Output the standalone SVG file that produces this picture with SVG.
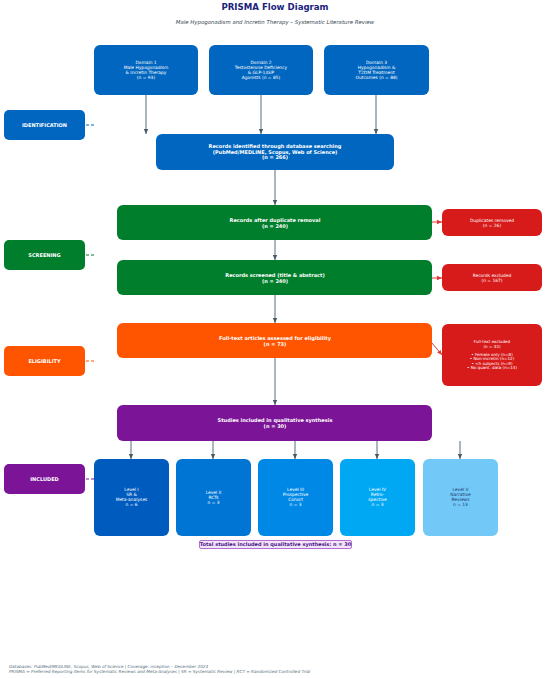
<svg xmlns="http://www.w3.org/2000/svg" width="550" height="678" viewBox="0 0 550 678">
<defs>
<marker id="ah" markerWidth="6" markerHeight="6" refX="5" refY="3" orient="auto" markerUnits="userSpaceOnUse"><path d="M0,0.8 L5,3 L0,5.2 z" fill="#455a64"/></marker>
<marker id="ahr" markerWidth="6" markerHeight="6" refX="5" refY="3" orient="auto" markerUnits="userSpaceOnUse"><path d="M0,0.8 L5,3 L0,5.2 z" fill="#e53935"/></marker>
</defs>
<style>
text{font-family:"DejaVu Sans",sans-serif;text-anchor:middle}
.w{fill:#ffffff;font-size:4.4px}
.wb{fill:#ffffff;font-size:5px;font-weight:bold}
.side{fill:#ffffff;font-size:5px;font-weight:bold}
.ar{stroke:#546e7a;stroke-width:1;fill:none;marker-end:url(#ah)}
.rr{stroke:#e53935;stroke-width:1;fill:none;marker-end:url(#ahr)}
.ds{stroke-width:1;stroke-dasharray:3,2;fill:none}
</style>
<rect width="550" height="678" fill="#ffffff"/>
<text x="275" y="9.5" style="font-size:8.6px;font-weight:bold;fill:#1a237e">PRISMA Flow Diagram</text>
<text x="275" y="24" style="font-size:5.4px;font-style:italic;fill:#37474f">Male Hypogonadism and Incretin Therapy – Systematic Literature Review</text>

<g id="connectors">
<line class="ar" x1="146" y1="95" x2="146" y2="134"/>
<line class="ar" x1="261" y1="95" x2="261" y2="134"/>
<line class="ar" x1="376" y1="95" x2="376" y2="134"/>
<line class="ar" x1="275" y1="170" x2="275" y2="205"/>
<line class="ar" x1="275" y1="240" x2="275" y2="260"/>
<line class="ar" x1="275" y1="295" x2="275" y2="323"/>
<line class="ar" x1="275" y1="358" x2="275" y2="405"/>
<line class="rr" x1="432" y1="222" x2="442" y2="222"/>
<line class="rr" x1="432" y1="278" x2="442" y2="278"/>
<line class="rr" x1="432" y1="343" x2="442" y2="355"/>
<line class="ar" x1="131" y1="441" x2="131" y2="459"/>
<line class="ar" x1="213" y1="441" x2="213" y2="459"/>
<line class="ar" x1="295" y1="441" x2="295" y2="459"/>
<line class="ar" x1="377" y1="441" x2="377" y2="459"/>
<line class="ar" x1="460" y1="441" x2="460" y2="459"/>
<line class="ds" stroke="#0066c0" x1="86" y1="125" x2="94" y2="125"/>
<line class="ds" stroke="#007e2b" x1="86" y1="255" x2="94" y2="255"/>
<line class="ds" stroke="#ff5500" x1="86" y1="361" x2="94" y2="361"/>
<line class="ds" stroke="#7b1497" x1="86" y1="479" x2="94" y2="479"/>
</g>

<g id="domain1"><rect x="94" y="45" width="104" height="50" rx="6" fill="#0066c0"/>
<text class="w" x="146" y="63.5">Domain 1</text><text class="w" x="146" y="68.5">Male Hypogonadism</text><text class="w" x="146" y="73.5">&amp; Incretin Therapy</text><text class="w" x="146" y="78.5">(n = 93)</text></g>
<g id="domain2"><rect x="209" y="45" width="104" height="50" rx="6" fill="#0066c0"/>
<text class="w" x="261" y="63.5">Domain 2</text><text class="w" x="261" y="68.5">Testosterone Deficiency</text><text class="w" x="261" y="73.5">&amp; GLP-1/GIP</text><text class="w" x="261" y="78.5">Agonists (n = 85)</text></g>
<g id="domain3"><rect x="324" y="45" width="105" height="50" rx="6" fill="#0066c0"/>
<text class="w" x="376.5" y="63.5">Domain 3</text><text class="w" x="376.5" y="68.5">Hypogonadism &amp;</text><text class="w" x="376.5" y="73.5">T2DM Treatment</text><text class="w" x="376.5" y="78.5">Outcomes (n = 88)</text></g>

<g id="identification"><rect x="4" y="110" width="81" height="30" rx="5" fill="#0066c0"/><text class="side" x="44.5" y="126.8">IDENTIFICATION</text></g>
<g id="screening"><rect x="4" y="240" width="81" height="30" rx="5" fill="#007e2b"/><text class="side" x="44.5" y="256.8">SCREENING</text></g>
<g id="eligibility"><rect x="4" y="346" width="81" height="30" rx="5" fill="#ff5500"/><text class="side" x="44.5" y="362.8">ELIGIBILITY</text></g>
<g id="included"><rect x="4" y="464" width="81" height="30" rx="5" fill="#7b1497"/><text class="side" x="44.5" y="480.8">INCLUDED</text></g>

<g id="identified"><rect x="156" y="134" width="238" height="36" rx="6" fill="#0066c0"/>
<text class="wb" x="275" y="148">Records identified through database searching</text><text class="wb" x="275" y="153.5">(PubMed/MEDLINE, Scopus, Web of Science)</text><text class="wb" x="275" y="159">(n = 266)</text></g>
<g id="dedup"><rect x="117" y="205" width="315" height="35" rx="6" fill="#007e2b"/>
<text class="wb" x="275" y="221.5">Records after duplicate removal</text><text class="wb" x="275" y="227.5">(n = 240)</text></g>
<g id="duplicates"><rect x="442" y="209" width="100" height="27" rx="6" fill="#d71a1a"/>
<text class="w" x="492" y="221.5">Duplicates removed</text><text class="w" x="492" y="226.5">(n = 26)</text></g>
<g id="screened"><rect x="117" y="260" width="315" height="35" rx="6" fill="#007e2b"/>
<text class="wb" x="275" y="276.5">Records screened (title &amp; abstract)</text><text class="wb" x="275" y="282.5">(n = 240)</text></g>
<g id="excluded"><rect x="442" y="264" width="100" height="27" rx="6" fill="#d71a1a"/>
<text class="w" x="492" y="276.5">Records excluded</text><text class="w" x="492" y="281.5">(n = 167)</text></g>
<g id="fulltext"><rect x="117" y="323" width="315" height="35" rx="6" fill="#ff5500"/>
<text class="wb" x="275" y="339.5">Full-text articles assessed for eligibility</text><text class="wb" x="275" y="345.5">(n = 73)</text></g>
<g id="ftexcluded"><rect x="442" y="324" width="100" height="62" rx="6" fill="#d71a1a"/>
<g style="font-size:4.1px;fill:#ffffff"><text x="492" y="343">Full-text excluded</text><text x="492" y="347.5">(n = 43)</text><text x="492" y="355.5">• Female only (n=8)</text><text x="492" y="360">• Non-incretin (n=12)</text><text x="492" y="364.5">• &lt;5 subjects (n=9)</text><text x="492" y="369">• No quant. data (n=14)</text></g></g>
<g id="studies"><rect x="117" y="405" width="315" height="36" rx="6" fill="#7b1497"/>
<text class="wb" x="275" y="422">Studies included in qualitative synthesis</text><text class="wb" x="275" y="428">(n = 30)</text></g>

<g id="level1"><rect x="94" y="459" width="75" height="77" rx="6" fill="#005bbf"/>
<text class="w" x="131.5" y="491">Level I</text><text class="w" x="131.5" y="496">SR &amp;</text><text class="w" x="131.5" y="501">Meta-analyses</text><text class="w" x="131.5" y="506">n = 6</text></g>
<g id="level2"><rect x="176" y="459" width="75" height="77" rx="6" fill="#0075d3"/>
<text class="w" x="213.5" y="493.5">Level II</text><text class="w" x="213.5" y="498.5">RCTs</text><text class="w" x="213.5" y="503.5">n = 3</text></g>
<g id="level3"><rect x="258" y="459" width="75" height="77" rx="6" fill="#0088e6"/>
<text class="w" x="295.5" y="491">Level III</text><text class="w" x="295.5" y="496">Prospective</text><text class="w" x="295.5" y="501">Cohort</text><text class="w" x="295.5" y="506">n = 3</text></g>
<g id="level4"><rect x="340" y="459" width="75" height="77" rx="6" fill="#00a8f4"/>
<text class="w" x="377.5" y="491">Level IV</text><text class="w" x="377.5" y="496">Retro-</text><text class="w" x="377.5" y="501">spective</text><text class="w" x="377.5" y="506">n = 3</text></g>
<g id="level5"><rect x="423" y="459" width="75" height="77" rx="6" fill="#72c8f7"/>
<g style="font-size:4.4px;fill:#1a3a6e"><text x="460.5" y="491">Level V</text><text x="460.5" y="496">Narrative</text><text x="460.5" y="501">Reviews</text><text x="460.5" y="506">n = 13</text></g></g>

<g id="total"><rect x="199.5" y="540.5" width="152" height="8" rx="1.5" fill="#f3e5f5" stroke="#9c4dcc" stroke-width="0.8"/>
<text x="275.5" y="546.3" style="font-size:5px;font-weight:bold;fill:#4a148c">Total studies included in qualitative synthesis: n = 30</text></g>

<g style="font-size:4.2px;font-style:italic;fill:#546e7a">
<text x="9" y="667.5" style="text-anchor:start">Databases: PubMed/MEDLINE, Scopus, Web of Science  |  Coverage: inception – December 2024</text>
<text x="9" y="672.5" style="text-anchor:start">PRISMA = Preferred Reporting Items for Systematic Reviews and Meta-Analyses  |  SR = Systematic Review  |  RCT = Randomized Controlled Trial</text>
</g>
</svg>
